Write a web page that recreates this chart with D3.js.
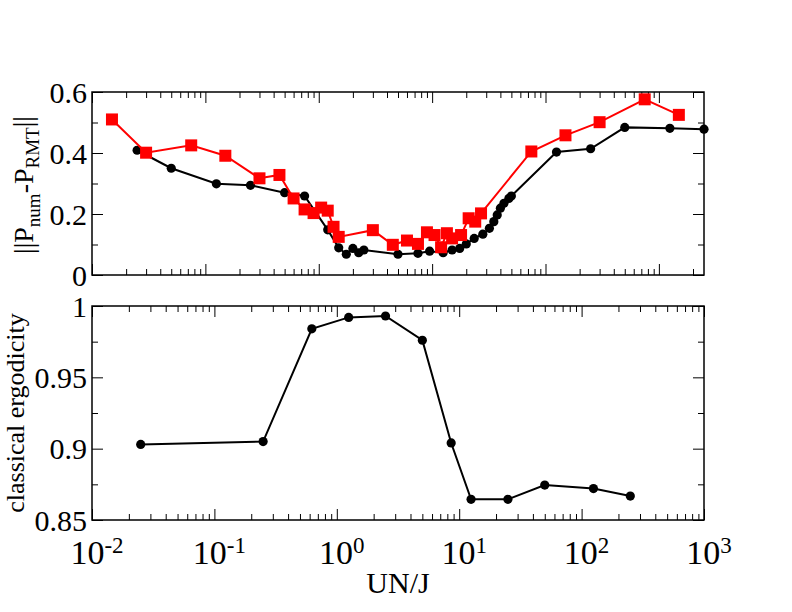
<!DOCTYPE html>
<html lang="en">
<head>
<meta charset="UTF-8">
<title>Classical ergodicity vs UN/J</title>
<style>
body { margin: 0; background: #fff; }
text { font-family: "Liberation Serif", "DejaVu Serif", serif; fill: #000; }
.frame { fill: none; stroke: #000; stroke-width: 1.5px; }
.tick line { stroke: #000; stroke-width: 1px; }
.domain { display: none; }
</style>
</head>
<body>
<script src="https://cdnjs.cloudflare.com/ajax/libs/d3/7.8.5/d3.min.js"></script>
<script>
// top panel, black circles
var topBlackX = [0.025, 0.05, 0.125, 0.25, 0.5, 0.75, 1.2, 1.5, 1.75, 2, 2.25, 2.5,
  5, 7.5, 9.5, 12.5, 15, 17.5, 20, 23.5, 28, 32, 35, 37.5, 40, 43, 47.5, 50,
  125, 250, 500, 1250, 2500];
var topBlackY = [0.409, 0.350, 0.299, 0.294, 0.270, 0.259, 0.148, 0.089, 0.068, 0.087, 0.073, 0.082,
  0.068, 0.071, 0.078, 0.073, 0.082, 0.087, 0.102, 0.120, 0.134, 0.153, 0.175, 0.197, 0.219, 0.235, 0.251, 0.259,
  0.403, 0.414, 0.484, 0.481, 0.478];
// top panel, red squares
var topRedX = [0.015, 0.03, 0.075, 0.15, 0.3, 0.45, 0.6, 0.75, 0.9, 1.05, 1.2, 1.35, 1.5,
  3, 4.5, 6, 7.5, 9, 10.5, 12, 13.5, 15, 18, 21, 24, 27, 75, 150, 300, 750, 1500];
var topRedY = [0.51, 0.401, 0.425, 0.391, 0.317, 0.328, 0.251, 0.215, 0.203, 0.221, 0.211, 0.158, 0.125,
  0.147, 0.099, 0.113, 0.102, 0.14, 0.131, 0.091, 0.137, 0.12, 0.131, 0.186, 0.175, 0.202,
  0.405, 0.458, 0.501, 0.576, 0.525];
// bottom panel
var botX = [0.025, 0.25, 0.625, 1.25, 2.5, 5, 8.6, 12.5, 25, 50, 125, 250];
var botY = [0.903, 0.905, 0.984, 0.992, 0.993, 0.976, 0.904, 0.8645, 0.8645, 0.8745, 0.872, 0.8668];

var topYTicks = [0, 0.2, 0.4, 0.6], topYMinor = [0.1, 0.3, 0.5];
var botYTicks = [0.85, 0.9, 0.95, 1], botYMinor = [0.875, 0.925, 0.975];
var xExp = [-2, -1, 0, 1, 2, 3];

var width = 792, height = 612;
var L = 92, R = 704;
var svg = d3.select("body").append("svg").attr("width", width).attr("height", height);

var xTop = d3.scaleLog().domain([0.01, 2500]).range([L, R]);
var yTop = d3.scaleLinear().domain([0, 0.6]).range([275, 92]);
var xBot = d3.scaleLog().domain([0.01, 1000]).range([L, R]);
var yBot = d3.scaleLinear().domain([0.85, 1]).range([520, 306]);

function minorLog(x) {
  var out = [];
  var d = x.domain();
  for (var e = -2; e <= 3; e++)
    for (var m = 2; m <= 9; m++) {
      var v = m * Math.pow(10, e);
      if (v > d[0] && v < d[1]) out.push(v);
    }
  return out;
}
var majors = xExp.map(e => Math.pow(10, e));

function frame(x, y) {
  var g = svg.append("g");
  var y0 = y.range()[0], y1 = y.range()[1];
  var maj = majors.filter(v => v >= x.domain()[0] && v <= x.domain()[1]);
  [[d3.axisBottom, y0, -11, maj], [d3.axisBottom, y0, -6, minorLog(x)],
   [d3.axisTop, y1, -11, maj], [d3.axisTop, y1, -6, minorLog(x)]].forEach(function (a) {
    g.append("g").attr("transform", "translate(0," + a[1] + ")")
      .call(a[0](x).tickValues(a[3]).tickSize(a[2]).tickFormat(""));
  });
  g.append("rect").attr("class", "frame")
    .attr("x", L).attr("y", y1).attr("width", R - L).attr("height", y0 - y1);
  return g;
}

function yAxes(g, y, major, minor, fmt) {
  [[d3.axisLeft, L, -11, major], [d3.axisLeft, L, -6, minor],
   [d3.axisRight, R, -11, major], [d3.axisRight, R, -6, minor]].forEach(function (a) {
    g.append("g").attr("transform", "translate(" + a[1] + ",0)")
      .call(a[0](y).tickValues(a[3]).tickSize(a[2]).tickFormat(""));
  });
  g.selectAll(".ylab").data(major).enter().append("text")
    .attr("x", L - 5).attr("y", d => y(d)).attr("dy", "0.35em")
    .attr("text-anchor", "end").style("font-size", "30px")
    .text(fmt);
}

function series(x, y, xs, ys, color, shape) {
  var pts = xs.map((v, i) => [x(v), y(ys[i])]);
  svg.append("path").attr("d", d3.line()(pts))
    .attr("fill", "none").attr("stroke", color).attr("stroke-width", 2);
  if (shape === "square") {
    svg.selectAll(null).data(pts).enter().append("rect")
      .attr("x", d => d[0] - 6).attr("y", d => d[1] - 6)
      .attr("width", 12).attr("height", 12).attr("fill", color);
  } else {
    svg.selectAll(null).data(pts).enter().append("circle")
      .attr("cx", d => d[0]).attr("cy", d => d[1]).attr("r", 4.6).attr("fill", color);
  }
}

// top panel
var gTop = frame(xTop, yTop);
yAxes(gTop, yTop, topYTicks, topYMinor, d => d === 0 ? "0" : d3.format(".1f")(d));
series(xTop, yTop, topBlackX, topBlackY, "#000", "circle");
series(xTop, yTop, topRedX, topRedY, "#ff0000", "square");

// bottom panel
var gBot = frame(xBot, yBot);
yAxes(gBot, yBot, botYTicks, botYMinor, d => d === 1 ? "1" : String(+d.toFixed(2)));
series(xBot, yBot, botX, botY, "#000", "circle");

// x tick labels
var xl = svg.selectAll(".xlab").data(xExp).enter().append("text")
  .attr("x", d => xBot(Math.pow(10, d)) + 5).attr("y", 564)
  .attr("text-anchor", "middle").style("font-size", "34px");
xl.append("tspan").text("10");
xl.append("tspan").attr("dy", "-0.5em").style("font-size", "23px").text(d => d);

svg.append("text").attr("x", (L + R) / 2).attr("y", 593)
  .attr("text-anchor", "middle").style("font-size", "30px").text("UN/J");

// y labels
var yl = svg.append("text").attr("transform", "translate(33,185) rotate(-90)")
  .attr("text-anchor", "middle").style("font-size", "28px");
yl.append("tspan").text("||P");
yl.append("tspan").attr("dy", "0.35em").style("font-size", "19px").text("num");
yl.append("tspan").attr("dy", "-0.25em").text("-P");
yl.append("tspan").attr("dy", "0.35em").style("font-size", "19px").text("RMT");
yl.append("tspan").attr("dy", "-0.25em").text("||");

svg.append("text").attr("transform", "translate(24,413) rotate(-90)")
  .attr("text-anchor", "middle").style("font-size", "26px").text("classical ergodicity");
</script>
</body>
</html>
